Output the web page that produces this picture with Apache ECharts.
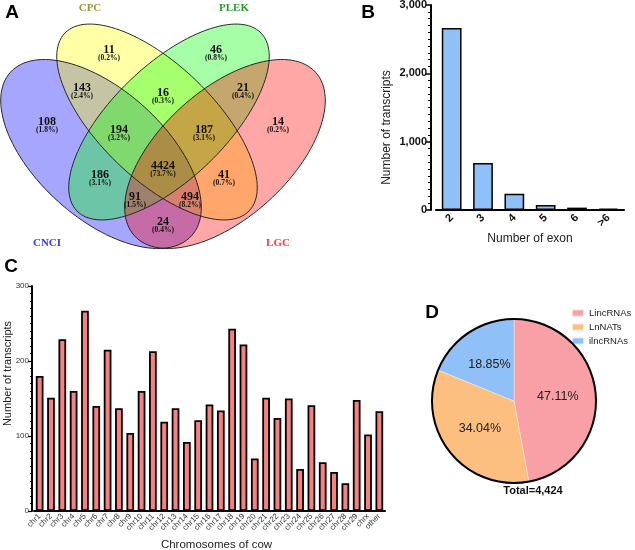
<!DOCTYPE html>
<html><head><meta charset="utf-8">
<script src="https://cdn.jsdelivr.net/npm/echarts@6/dist/echarts.min.js"></script>
<style>html,body{margin:0;padding:0;background:#fff}#c{width:635px;height:550px}</style>
</head><body><div id="c"></div>
<script>
// ---------- Panel A: Venn ----------
const vennSets = ['CNCI', 'CPC', 'PLEK', 'LGC'];
const vennCounts = [11, 46, 143, 16, 21, 108, 194, 187, 14, 4424, 186, 41, 91, 494, 24];
const vennPercents = ['0.2%', '0.8%', '2.4%', '0.3%', '0.4%', '1.8%', '3.2%', '3.1%', '0.2%', '73.7%', '3.1%', '0.7%', '1.5%', '8.2%', '0.4%'];
// ---------- Panel B ----------
const exonCategories = ['2', '3', '4', '5', '6', '>6'];
const exonValues = [2665, 688, 239, 73, 35, 20];
// ---------- Panel C ----------
const chrCategories = ['chr1','chr2','chr3','chr4','chr5','chr6','chr7','chr8','chr9','chr10','chr11','chr12','chr13','chr14','chr15','chr16','chr17','chr18','chr19','chr20','chr21','chr22','chr23','chr24','chr25','chr26','chr27','chr28','chr29','chrx','other'];
const chrValues = [180,151,229,160,267,140,215,137,104,160,213,119,137,92,121,142,134,243,222,70,151,124,150,56,141,65,52,37,148,102,133];
// ---------- Panel D ----------
const pieNames = ['LincRNAs', 'LnNATs', 'ilncRNAs'];
const pieValues = [2084, 1506, 834];
const pieTotalLabel = 'Total=4,424';

// ---------- layout / style (not data) ----------
const SANS = "'Liberation Sans', Arial, sans-serif";
const SERIF = "'Liberation Serif', 'Times New Roman', serif";
const vennEllipses = [ // drawing order: CNCI, CPC, PLEK, LGC
  {x: 101, y: 154, rx: 122, ry: 64, rot: -42, fill: 'rgba(0,0,255,0.35)'},
  {x: 157, y: 122, rx: 128, ry: 57, rot: -44, fill: 'rgba(255,255,0,0.35)'},
  {x: 169, y: 122, rx: 128, ry: 57, rot: 44, fill: 'rgba(0,255,0,0.35)'},
  {x: 225, y: 154, rx: 122, ry: 64, rot: 42, fill: 'rgba(255,0,0,0.35)'}
];
const vennLabelPos = [[109,50],[216,50],[82,88],[163,93],[243,88],[47,122],[119,130],[204,130],[278,122],[163,166],[100,175],[224,175],[135,197],[190,197],[163,222]];
const vennSetPos = [[47,243,'#3a3aff'],[90,8,'#999930'],[234,8,'#2e9a2e'],[278,243,'#ff3a3a']];

const fmtThousands = v => String(v).replace(/\B(?=(\d{3})+(?!\d))/g, ',');

const graphic = [];
vennEllipses.forEach(e => {
  graphic.push({type: 'ellipse', x: e.x, y: e.y, rotation: e.rot * Math.PI / 180,
    shape: {cx: 0, cy: 0, rx: e.rx, ry: e.ry}, style: {fill: e.fill, stroke: null}, z: 1, silent: true});
});
vennEllipses.forEach(e => {
  graphic.push({type: 'ellipse', x: e.x, y: e.y, rotation: e.rot * Math.PI / 180,
    shape: {cx: 0, cy: 0, rx: e.rx, ry: e.ry}, style: {fill: null, stroke: '#222', lineWidth: 0.9}, z: 2, silent: true});
});
vennCounts.forEach((c, i) => {
  const p = vennLabelPos[i];
  graphic.push({type: 'text', x: p[0], y: p[1], z: 3, silent: true,
    style: {text: String(c), font: 'bold 12px ' + SERIF, fill: '#111', textAlign: 'center', textVerticalAlign: 'middle'}});
  graphic.push({type: 'text', x: p[0], y: p[1] + 8.5, z: 3, silent: true,
    style: {text: '(' + vennPercents[i] + ')', font: 'bold 7.5px ' + SERIF, fill: '#111', textAlign: 'center', textVerticalAlign: 'middle'}});
});
vennSets.forEach((s, i) => {
  const p = vennSetPos[i];
  graphic.push({type: 'text', x: p[0], y: p[1], z: 3, silent: true,
    style: {text: s, font: 'bold 11px ' + SERIF, fill: p[2], textAlign: 'center', textVerticalAlign: 'middle'}});
});
// panel letters
[['A', 12, 13], ['B', 368, 13], ['C', 11, 267], ['D', 432, 313]].forEach(l => {
  graphic.push({type: 'text', x: l[1], y: l[2], z: 5, silent: true,
    style: {text: l[0], font: 'bold 19px ' + SANS, fill: '#000', textAlign: 'center', textVerticalAlign: 'middle'}});
});
graphic.push({type: 'text', x: 533, y: 491, z: 5, silent: true,
  style: {text: pieTotalLabel, font: 'bold 11px ' + SANS, fill: '#111', textAlign: 'center', textVerticalAlign: 'middle'}});

const chart = echarts.init(document.getElementById('c'), null, {renderer: 'canvas'});
chart.setOption({
  animation: false,
  backgroundColor: '#fff',
  graphic: graphic,
  legend: {
    data: pieNames, orient: 'vertical', left: 571, top: 308, itemWidth: 12, itemHeight: 7, itemGap: 4,
    icon: 'rect', textStyle: {fontFamily: SANS, fontSize: 9.5, color: '#222'}, padding: 0
  },
  grid: [
    {left: 436, top: 5, width: 188, height: 205, containLabel: false, outerBoundsMode: 'none'},
    {left: 34, top: 286, width: 351, height: 225, containLabel: false, outerBoundsMode: 'none'}
  ],
  xAxis: [
    {type: 'category', gridIndex: 0, data: exonCategories,
      name: 'Number of exon', nameLocation: 'middle', nameGap: 23,
      nameTextStyle: {fontFamily: SANS, fontSize: 12, color: '#222'},
      axisLine: {lineStyle: {color: '#000', width: 2}},
      axisTick: {alignWithLabel: true, length: 5, lineStyle: {color: '#000', width: 1.5}},
      axisLabel: {rotate: 45, fontFamily: SANS, fontWeight: 'bold', fontSize: 11, color: '#111', margin: 6}},
    {type: 'category', gridIndex: 1, data: chrCategories,
      name: 'Chromosomes of cow', nameLocation: 'middle', nameGap: 28,
      nameTextStyle: {fontFamily: SANS, fontSize: 11.5, color: '#222', padding: [0, 0, 0, 14]},
      axisLine: {lineStyle: {color: '#000', width: 2}},
      axisTick: {alignWithLabel: true, length: 4, lineStyle: {color: '#000', width: 1.2}},
      axisLabel: {rotate: 45, fontFamily: SANS, fontSize: 8, color: '#333', margin: 4, interval: 0}}
  ],
  yAxis: [
    {type: 'value', gridIndex: 0, min: 0, max: 3000, interval: 1000, offset: 5,
      name: 'Number of transcripts', nameLocation: 'middle', nameGap: 38, nameRotate: 90,
      nameTextStyle: {fontFamily: SANS, fontSize: 12, color: '#222', padding: [0, 40, 0, 0]},
      axisLine: {show: true, lineStyle: {color: '#000', width: 2}},
      axisTick: {show: true, length: 5, lineStyle: {color: '#000', width: 1.5}},
      minorTick: {show: true, splitNumber: 10, length: 3, lineStyle: {color: '#000', width: 1}},
      splitLine: {show: false},
      axisLabel: {fontFamily: SANS, fontWeight: 'bold', fontSize: 11, color: '#111', margin: 4, formatter: fmtThousands}},
    {type: 'value', gridIndex: 1, min: 0, max: 300, interval: 100, offset: 2,
      name: 'Number of transcripts', nameLocation: 'middle', nameGap: 19, nameRotate: 90, nameMoveOverlap: false,
      nameTextStyle: {fontFamily: SANS, fontSize: 11, color: '#222', padding: [0, 0, 0, 50]},
      axisLine: {show: true, lineStyle: {color: '#000', width: 2}},
      axisTick: {show: true, length: 4, lineStyle: {color: '#000', width: 1.2}},
      minorTick: {show: true, splitNumber: 10, length: 2, lineStyle: {color: '#000', width: 1}},
      splitLine: {show: false},
      axisLabel: {fontFamily: SANS, fontSize: 8, color: '#333', margin: 3}}
  ],
  series: [
    {type: 'bar', xAxisIndex: 0, yAxisIndex: 0, data: exonValues, barCategoryGap: '37%',
      itemStyle: {color: '#90c0f8', borderColor: '#000', borderWidth: 1.5}},
    {type: 'bar', xAxisIndex: 1, yAxisIndex: 1, data: chrValues, barCategoryGap: '32%',
      itemStyle: {color: '#f88080', borderColor: '#000', borderWidth: 1.8}},
    {type: 'pie', center: [514, 401], radius: 82, startAngle: 90, clockwise: true,
      data: pieNames.map((n, i) => ({name: n, value: pieValues[i]})),
      color: ['#f9a0a6', '#fdbf80', '#90c0f8'],
      itemStyle: {borderColor: 'rgba(255,255,255,0.6)', borderWidth: 0.6},
      label: {position: 'inner', formatter: p => p.percent.toFixed(2) + '%', fontFamily: SANS, fontSize: 12.5, color: '#222'},
      labelLine: {show: false}, emphasis: {disabled: true}},
    {type: 'pie', center: [514, 401], radius: 82, silent: true, data: [{value: 1, name: ''}],
      itemStyle: {color: 'rgba(0,0,0,0)', borderColor: '#000', borderWidth: 2},
      label: {show: false}, labelLine: {show: false}, z: 5}
  ]
});
</script></body></html>
